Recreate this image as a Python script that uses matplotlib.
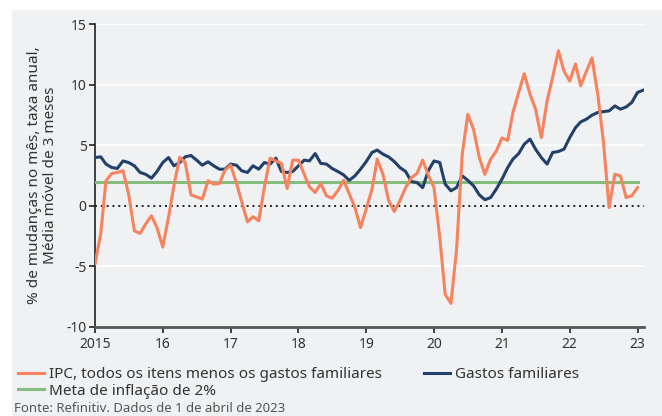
import numpy as np
import pandas as pd
import matplotlib
matplotlib.use("Agg")
import matplotlib.pyplot as plt
from matplotlib.patches import Rectangle

# -----------------------------
# Data (monthly)
# -----------------------------
ipc = [-4.8, -2.3, 2.06, 2.66, 2.75, 2.9, 0.96, -2.06, -2.28, -1.5, -0.82, -1.8,
       -3.4, -0.96, 1.65, 4.0, 3.57, 0.9, 0.74, 0.55, 2.06, 1.79, 1.84, 2.94,
       3.35, 1.87, 0.35, -1.32, -0.9, -1.24, 1.5, 3.93, 3.7, 3.5, 1.43, 3.77,
       3.77, 2.6, 1.57, 1.1, 1.84, 0.82, 0.63, 1.24, 2.1, 1.0, -0.14, -1.8,
       -0.25, 1.37, 3.85, 2.6, 0.47, -0.47, 0.41, 1.5, 2.33, 2.66, 3.77, 2.55,
       1.5, -2.6, -7.3, -8.05, -3.7, 4.26, 7.55, 6.3, 3.98, 2.6, 3.85, 4.5,
       5.6, 5.4, 7.7, 9.35, 10.9, 9.2, 7.97, 5.63, 8.65, 10.6, 12.8, 11.1,
       10.3, 11.7, 9.9, 11.1, 12.2, 9.2, 5.36, -0.14, 2.6, 2.47, 0.68, 0.82,
       1.5]

gastos = [3.98, 4.04, 3.44, 3.16, 3.08, 3.7, 3.57, 3.3, 2.75, 2.6, 2.28, 2.83,
          3.57, 3.98, 3.3, 3.57, 4.04, 4.15, 3.77, 3.35, 3.63, 3.3, 3.02, 3.02,
          3.44, 3.35, 2.89, 2.75, 3.3, 3.02, 3.57, 3.44, 3.93, 2.83, 2.75, 2.83,
          3.3, 3.77, 3.7, 4.31, 3.5, 3.44, 3.08, 2.83, 2.55, 2.1, 2.47, 3.02,
          3.65, 4.4, 4.6, 4.26, 4.04, 3.65, 3.16, 2.83, 2.0, 1.92, 1.5, 2.89,
          3.7, 3.57, 1.79, 1.24, 1.5, 2.47, 2.1, 1.65, 0.9, 0.5, 0.68, 1.37,
          2.2, 3.16, 3.85, 4.31, 5.08, 5.5, 4.67, 3.98, 3.44, 4.4, 4.48, 4.67,
          5.63, 6.45, 6.92, 7.15, 7.48, 7.7, 7.77, 7.83, 8.24, 7.97, 8.16, 8.52,
          9.35, 9.54]

meta = 2.0

dates_ipc = pd.date_range("2015-01-01", periods=len(ipc), freq="MS")
dates_gastos = pd.date_range("2015-01-01", periods=len(gastos), freq="MS")

year_ticks = pd.date_range("2015-01-01", "2023-01-01", freq="YS")
year_labels = ["2015", "16", "17", "18", "19", "20", "21", "22", "23"]
y_ticks = [-10, -5, 0, 5, 10, 15]

# -----------------------------
# Style
# -----------------------------
plt.rcParams["font.family"] = ["Noto Sans", "DejaVu Sans"]
plt.rcParams["axes.unicode_minus"] = False

bg = "#eff1f3"
c_ipc = "#f7825e"
c_gastos = "#23406a"
c_meta = "#86bd7e"
c_text = "#333333"

fig = plt.figure(figsize=(6.62, 4.16), dpi=100, facecolor="white")
fig.patches.append(Rectangle((12 / 662, 0), 1, 1 - 10 / 416,
                             transform=fig.transFigure, facecolor=bg,
                             edgecolor="none", zorder=-10))

ax = fig.add_axes([95 / 662, 1 - 327 / 416, (644 - 95) / 662, (327 - 24) / 416])
ax.set_facecolor(bg)

# Grid
for yv in [-5, 5, 10, 15]:
    ax.axhline(yv, color="white", lw=1.3, zorder=1)
ax.axhline(0, color="#222222", lw=1.4, ls=(0, (1, 2)), zorder=2)

# Series
ax.plot([dates_ipc[0], dates_ipc[-1]], [meta, meta], color=c_meta, lw=2.2,
        zorder=3, label="Meta de inflação de 2%")
ax.plot(dates_gastos, gastos, color=c_gastos, lw=2.2, zorder=4,
        label="Gastos familiares")
ax.plot(dates_ipc, ipc, color=c_ipc, lw=2.2, zorder=5,
        label="IPC, todos os itens menos os gastos familiares")

# -----------------------------
# Formatting
# -----------------------------
ax.set_xlim(pd.Timestamp("2015-01-01"), pd.Timestamp("2023-02-05"))
ax.set_ylim(-10, 15)
ax.set_xticks(year_ticks)
ax.set_xticklabels(year_labels)
ax.set_yticks(y_ticks)
ax.set_yticklabels([str(v) for v in y_ticks])
ax.tick_params(axis="both", colors="#222222", labelcolor=c_text, labelsize=10,
               length=4, width=1.2)
ax.tick_params(axis="x", pad=3)
ax.tick_params(axis="y", pad=2)

for s in ["top", "right"]:
    ax.spines[s].set_visible(False)
ax.spines["left"].set_color("#222222")
ax.spines["left"].set_linewidth(1.2)
ax.spines["bottom"].set_color("#555555")
ax.spines["bottom"].set_linewidth(2)

ax.set_ylabel("% de mudanças no mês, taxa anual,\nMédia móvel de 3 meses",
              fontsize=11, color=c_text, labelpad=6, linespacing=1.1)

handles, labels = ax.get_legend_handles_labels()
order = [2, 0, 1]
fig.legend([handles[i] for i in order], [labels[i] for i in order],
           loc="upper left", bbox_to_anchor=(18 / 662, 1 - 367 / 416),
           ncol=2, frameon=False, fontsize=11, handlelength=1.7,
           handletextpad=0.35, columnspacing=2.7, labelspacing=0.12,
           borderpad=0, borderaxespad=0, labelcolor=c_text)

fig.text(14 / 662, 1 / 416,
         "Fonte: Refinitiv. Dados de 1 de abril de 2023",
         fontsize=9.5, color="#555555", va="bottom", ha="left")

fig.savefig("out.png", dpi=100, facecolor=fig.get_facecolor())
